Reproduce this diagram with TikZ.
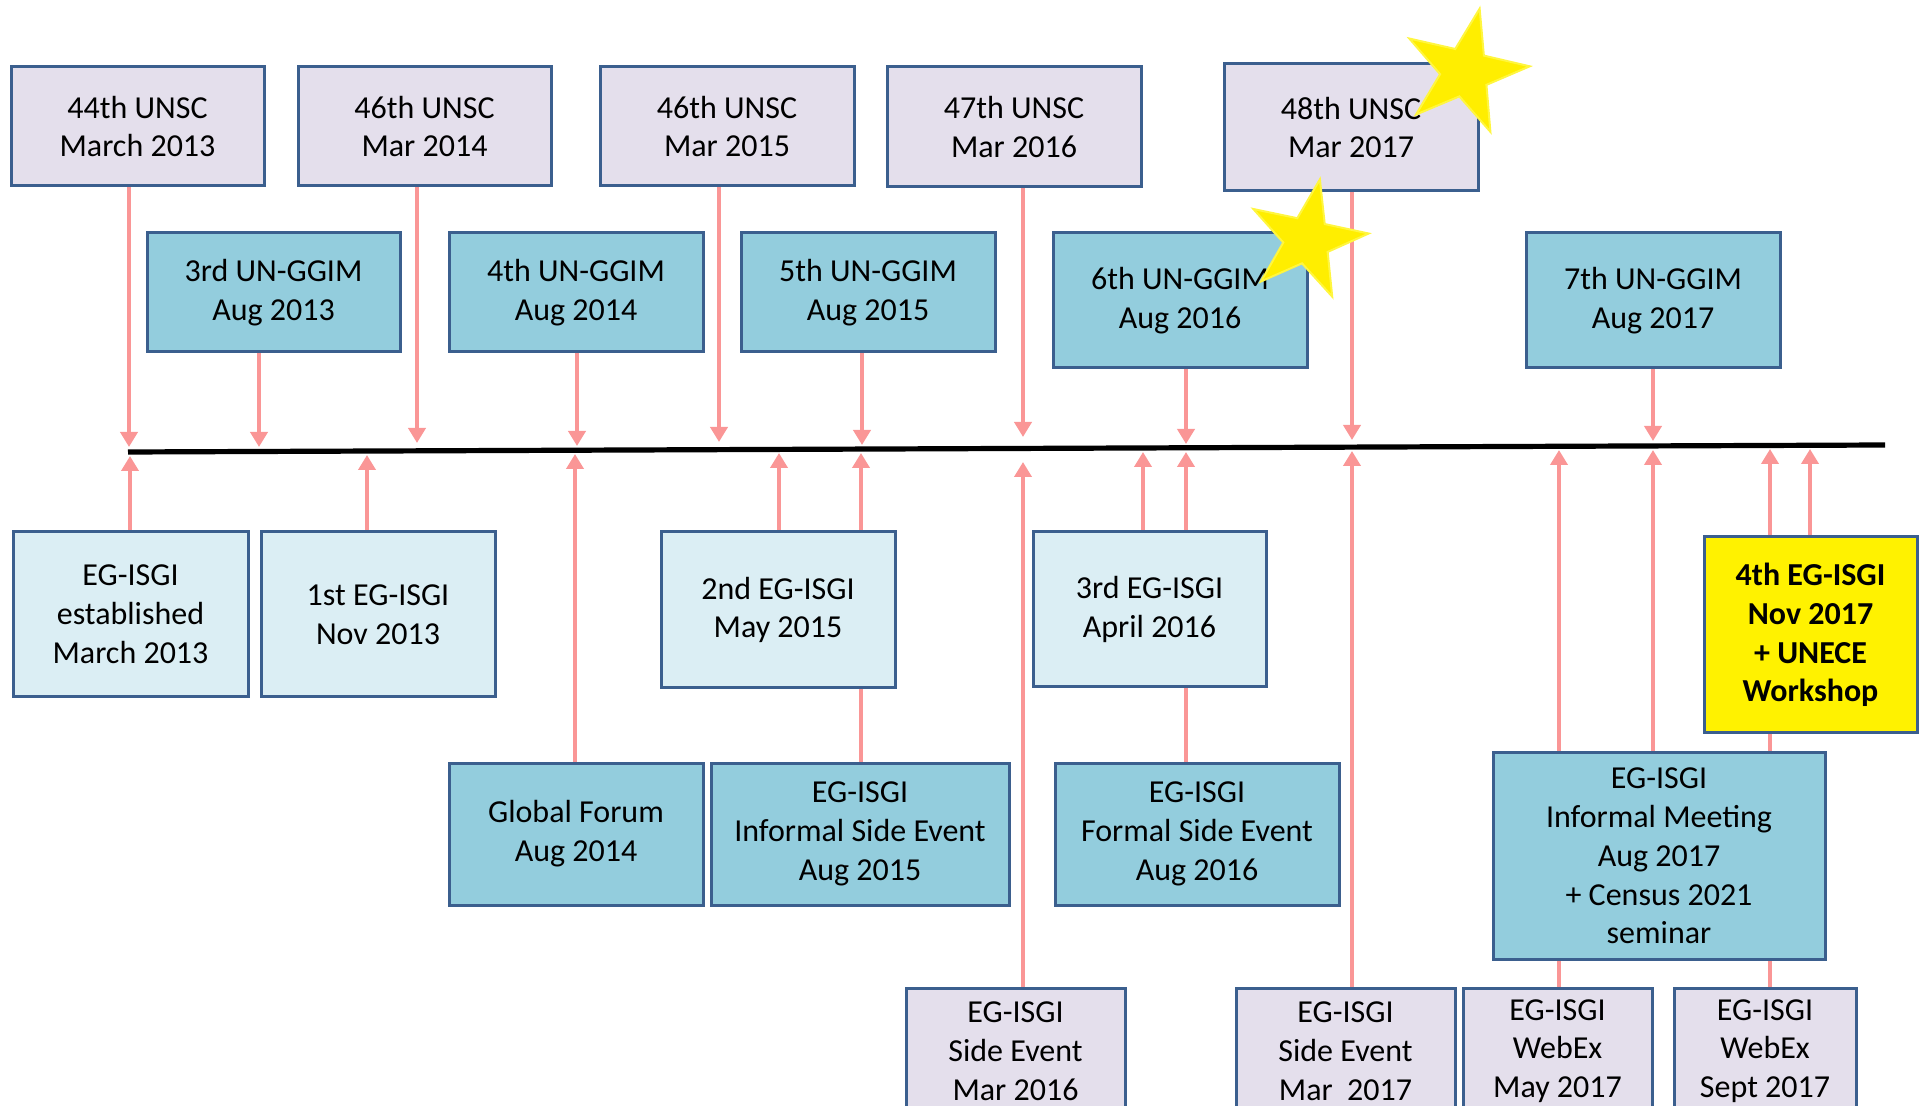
\documentclass[tikz,border=0pt]{standalone}
\usepackage{fontspec}
\setmainfont{Carlito}
\usetikzlibrary{arrows.meta,shapes.geometric}
\definecolor{lav}{HTML}{E4DFEC}
\definecolor{bluebox}{HTML}{93CDDD}
\definecolor{lightbox}{HTML}{DBEEF4}
\definecolor{edgec}{HTML}{3B5F8E}
\definecolor{pinkarr}{HTML}{FA9696}
\definecolor{staryel}{HTML}{FFEE00}
\definecolor{staredge}{HTML}{FFF640}
\pgfdeclarelayer{bg}
\pgfsetlayers{bg,main}
\newcommand\tlbox[7]{\node[#2, minimum width={(#5-#3)*0.5pt}, minimum height={(#6-#4)*0.5pt}] (#1) at ({(#3+#5)/2},{(#4+#6)/2}) {#7};}
\begin{document}
\begin{tikzpicture}[x=0.5pt,y=-0.5pt,
  box/.style={draw=edgec, line width=1.5pt, align=center, inner sep=0pt, font=\fontsize{16}{19.4}\selectfont},
  unsc/.style={box, fill=lav},
  ggim/.style={box, fill=bluebox},
  egl/.style={box, fill=lightbox},
  hilite/.style={box, fill=yellow, font=\fontsize{16}{19.4}\selectfont\bfseries},
  arr/.style={draw=pinkarr, line width=2.2pt, -{Triangle[length=7.5pt,width=8.5pt,fill=pinkarr]}},
  plain/.style={draw=pinkarr, line width=2.2pt},
  bigstar/.style={star, star points=5, star point ratio=2.6, inner sep=0pt, fill=staryel, draw=staredge, line width=1pt}
]
\useasboundingbox (0,0) rectangle (1923,1106);
\clip (0,0) rectangle (1923,1106);

% top row
\tlbox{u44}{unsc}{11}{67}{264}{186}{44th UNSC\\March 2013}
\tlbox{u46a}{unsc}{298}{67}{551}{186}{46th UNSC\\Mar 2014}
\tlbox{u46b}{unsc}{600}{67}{854}{186}{46th UNSC\\Mar 2015}
\tlbox{u47}{unsc}{887}{67}{1141}{187}{47th UNSC\\Mar 2016}
\tlbox{u48}{unsc}{1224}{64}{1478}{191}{48th UNSC\\Mar 2017}

% second row
\tlbox{g3}{ggim}{147}{233}{400}{352}{3rd UN-GGIM\\Aug 2013}
\tlbox{g4}{ggim}{449}{233}{703}{352}{4th UN-GGIM\\Aug 2014}
\tlbox{g5}{ggim}{741}{233}{995}{352}{5th UN-GGIM\\Aug 2015}
\tlbox{g6}{ggim}{1053}{233}{1307}{368}{6th UN-GGIM\\Aug 2016}
\tlbox{g7}{ggim}{1526}{233}{1780}{368}{7th UN-GGIM\\Aug 2017}

% timeline
\coordinate (tl) at (128,452);
\coordinate (tr) at (1885,445);
\draw[line width=2.6pt, black] (tl) -- (tr);

% lower rows
\tlbox{e0}{egl}{13}{532}{248}{697}{EG-ISGI\\established\\March 2013}
\tlbox{e1}{egl}{261}{532}{495}{697}{1st EG-ISGI\\Nov 2013}
\tlbox{e2}{egl}{661}{532}{895}{688}{2nd EG-ISGI\\May 2015}
\tlbox{e3}{egl}{1033}{532}{1266}{687}{3rd EG-ISGI\\April 2016}
\tlbox{e4}{hilite}{1704}{537}{1917}{733}{4th EG-ISGI\\Nov 2017\\+ UNECE\\Workshop}

\tlbox{gf}{ggim}{449}{763}{703}{905}{Global Forum\\Aug 2014}
\tlbox{ise}{ggim}{711}{763}{1009}{905}{EG-ISGI\\Informal Side Event\\Aug 2015}
\tlbox{fse}{ggim}{1055}{763}{1339}{905}{EG-ISGI\\Formal Side Event\\Aug 2016}
\tlbox{imt}{ggim}{1493}{753}{1825}{959}{EG-ISGI\\Informal Meeting\\Aug 2017\\+ Census 2021\\seminar}

\tlbox{se16}{unsc}{906}{988}{1125}{1114}{EG-ISGI\\Side Event\\Mar 2016}
\tlbox{se17}{unsc}{1236}{988}{1455}{1114}{EG-ISGI\\Side Event\\Mar\ \ 2017}
\tlbox{wx1}{unsc}{1463}{988}{1652}{1114}{EG-ISGI\\WebEx\\May 2017}
\tlbox{wx2}{unsc}{1674}{988}{1856}{1114}{EG-ISGI\\WebEx\\Sept 2017}

% arrow tip coordinates on the timeline
\coordinate (td1) at (129,447);
\coordinate (td2) at (259,447);
\coordinate (td3) at (417,443);
\coordinate (td4) at (577,446);
\coordinate (td5) at (719,442);
\coordinate (td6) at (862,445);
\coordinate (td7) at (1023,437);
\coordinate (td8) at (1186,444);
\coordinate (td9) at (1352,440);
\coordinate (td10) at (1653,441);

\coordinate (tu1) at (130,456);
\coordinate (tu2) at (367,455);
\coordinate (tu3) at (575,454);
\coordinate (tu4) at (779,453);
\coordinate (tu5) at (861,453);
\coordinate (tu6) at (1023,462);
\coordinate (tu7) at (1143,452);
\coordinate (tu8) at (1186,452);
\coordinate (tu9) at (1352,451);
\coordinate (tu10) at (1559,450);
\coordinate (tu11) at (1653,450);
\coordinate (tu12) at (1770,449);
\coordinate (tu13) at (1810,449);

\begin{pgfonlayer}{bg}
\draw[arr] (td1 |- u44.south) -- (td1);
\draw[arr] (td2 |- g3.south) -- (td2);
\draw[arr] (td3 |- u46a.south) -- (td3);
\draw[arr] (td4 |- g4.south) -- (td4);
\draw[arr] (td5 |- u46b.south) -- (td5);
\draw[arr] (td6 |- g5.south) -- (td6);
\draw[arr] (td7 |- u47.south) -- (td7);
\draw[arr] (td8 |- g6.south) -- (td8);
\draw[arr] (td9 |- u48.south) -- (td9);
\draw[arr] (td10 |- g7.south) -- (td10);

\draw[arr] (tu1 |- e0.north) -- (tu1);
\draw[arr] (tu2 |- e1.north) -- (tu2);
\draw[arr] (tu3 |- gf.north) -- (tu3);
\draw[arr] (tu4 |- e2.north) -- (tu4);
\draw[arr] (tu5 |- ise.north) -- (tu5);
\draw[arr] (tu6 |- se16.north) -- (tu6);
\draw[arr] (tu7 |- e3.north) -- (tu7);
\draw[arr] (tu8 |- fse.north) -- (tu8);
\draw[arr] (tu9 |- se17.north) -- (tu9);
\draw[arr] (tu10 |- wx1.north) -- (tu10);
\draw[arr] (tu11 |- imt.north) -- (tu11);
\draw[arr] (tu12 |- wx2.north) -- (tu12);
\draw[arr] (tu13 |- e4.north) -- (tu13);
\end{pgfonlayer}

% stars
\node[bigstar, minimum size=65pt, rotate=-13] (star1) at (1465,72) {};
\node[bigstar, minimum size=62pt, rotate=-12] (star2) at (1307,240) {};
\end{tikzpicture}
\end{document}
